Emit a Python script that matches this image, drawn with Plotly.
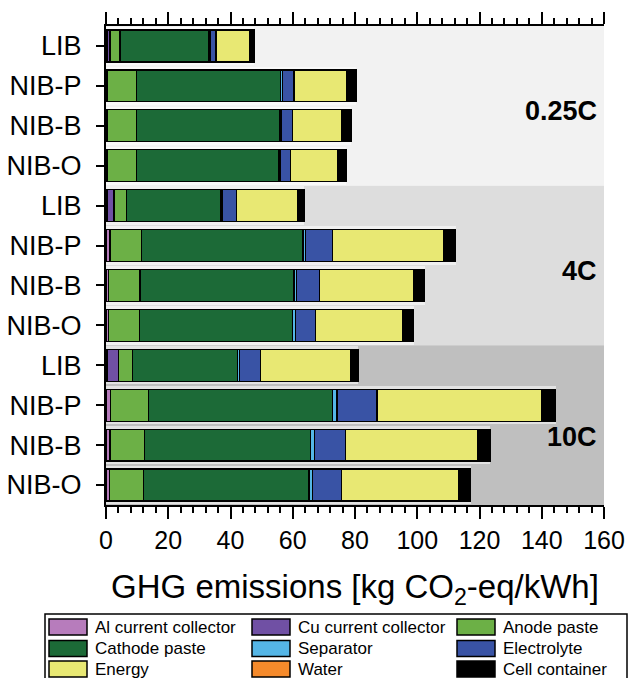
import plotly.graph_objects as go

# ---------------- data ----------------
row_labels = ["LIB", "NIB-P", "NIB-B", "NIB-O",
              "LIB", "NIB-P", "NIB-B", "NIB-O",
              "LIB", "NIB-P", "NIB-B", "NIB-O"]
group_labels = ["0.25C", "4C", "10C"]
group_label_pos = [1.62, 5.65, 9.8]

al_cc     = [0.3, 0.4, 0.4, 0.4, 0.4, 1.3, 0.9, 0.9, 0.5, 1.5, 1.3, 1.1]
cu_cc     = [1.0, 0.0, 0.0, 0.0, 2.2, 0.0, 0.0, 0.0, 3.5, 0.0, 0.0, 0.0]
anode     = [3.2, 9.5, 9.5, 9.3, 3.9, 10.2, 10.0, 9.8, 4.5, 12.2, 11.0, 10.9]
cathode   = [28.5, 46.2, 46.0, 45.7, 30.3, 51.8, 49.5, 49.2, 33.7, 59.1, 53.4, 53.2]
separator = [0.4, 0.5, 0.4, 0.5, 0.5, 0.9, 0.9, 0.9, 0.6, 1.4, 1.2, 1.2]
electrolyte = [1.9, 3.8, 3.7, 3.4, 4.6, 8.5, 7.2, 6.6, 6.8, 12.9, 10.0, 9.3]
energy    = [10.7, 16.9, 15.7, 15.1, 19.6, 35.9, 30.4, 27.8, 28.9, 52.9, 42.5, 37.6]
water     = [0.0] * 12
container = [1.7, 3.0, 3.0, 2.8, 2.1, 3.7, 3.5, 3.6, 2.6, 4.5, 4.1, 3.9]

series = [
    ("Al current collector", al_cc, "#b77cbc"),
    ("Cu current collector", cu_cc, "#7050a4"),
    ("Anode paste", anode, "#6cb046"),
    ("Cathode paste", cathode, "#1c6a37"),
    ("Separator", separator, "#55b6e6"),
    ("Electrolyte", electrolyte, "#3953a5"),
    ("Energy", energy, "#e8e873"),
    ("Water", water, "#f58a2b"),
    ("Cell container", container, "#000000"),
]

x_ticks = [0, 20, 40, 60, 80, 100, 120, 140, 160]
band_colors = ["#f2f2f2", "#dddddd", "#bfbfbf"]

# ---------------- layout constants ----------------
W, H = 629, 678
ML, MR, MT, MB = 106, 25, 26, 173
PW, PH = W - ML - MR, H - MT - MB
FONT = "Arial, Liberation Sans, sans-serif"


def px2paper(px, py):
    return (px - ML) / PW, (H - MB - py) / PH


ypos = list(range(len(row_labels)))
totals = [sum(s[1][i] for s in series) for i in ypos]

fig = go.Figure()

# light halo behind each bar
fig.add_trace(go.Bar(
    y=ypos, x=totals, orientation="h", width=0.96,
    marker=dict(color="rgba(255,255,255,0.55)", line=dict(width=0)),
    showlegend=False, hoverinfo="skip", xaxis="x", yaxis="y"))

for name, vals, col in series:
    fig.add_trace(go.Bar(
        y=ypos, x=vals, orientation="h", name=name, width=0.8,
        marker=dict(color=col, line=dict(color="black", width=1.3)),
        showlegend=False, xaxis="x2", yaxis="y"))

# background bands
for g, c in enumerate(band_colors):
    fig.add_shape(type="rect", xref="paper", yref="y", x0=0, x1=1,
                  y0=g * 4 - 0.5, y1=g * 4 + 3.5, fillcolor=c,
                  line=dict(width=0), layer="below")

# group labels
for lab, yy in zip(group_labels, group_label_pos):
    fig.add_annotation(text="<b>%s</b>" % lab, xref="paper", yref="y",
                       x=1 - 5 / PW, y=yy, xanchor="right", yanchor="middle",
                       showarrow=False, font=dict(family=FONT, size=27, color="black"))

# manual legend
lx0, ly0 = px2paper(45, 614)
lx1, ly1 = px2paper(627, 700)
fig.add_shape(type="rect", xref="paper", yref="paper", x0=lx0, y0=ly0, x1=lx1, y1=ly1,
              line=dict(color="black", width=1.5), fillcolor="white", layer="above")
col_x = [49, 252, 457]
row_y = [627, 648.5, 669]
for i, (name, vals, col) in enumerate(series):
    r, c = divmod(i, 3)
    sx0, sy0 = px2paper(col_x[c], row_y[r] - 8)
    sx1, sy1 = px2paper(col_x[c] + 38, row_y[r] + 8)
    fig.add_shape(type="rect", xref="paper", yref="paper", x0=sx0, y0=sy0, x1=sx1, y1=sy1,
                  fillcolor=col, line=dict(color="black", width=1.5), layer="above")
    tx, ty = px2paper(col_x[c] + 44, row_y[r])
    fig.add_annotation(text=name, xref="paper", yref="paper", x=tx, y=ty,
                       xanchor="left", yanchor="middle", showarrow=False,
                       font=dict(family=FONT, size=17, color="black"))

fig.update_layout(
    width=W, height=H,
    margin=dict(l=ML, r=MR, t=MT, b=MB, autoexpand=False),
    barmode="stack", bargap=0.2,
    paper_bgcolor="white", plot_bgcolor="white",
    font=dict(family=FONT, color="black"),
    showlegend=False,
    xaxis=dict(range=[0, 160], tickvals=x_ticks, ticks="outside", ticklen=12,
               tickwidth=2, tickcolor="black", showline=True, linecolor="black",
               linewidth=2, mirror="ticks", showgrid=False, zeroline=False,
               tickfont=dict(family=FONT, size=25, color="black"),
               minor=dict(dtick=4, ticks="outside", ticklen=6, tickwidth=1.5,
                          tickcolor="black", showgrid=False),
               title=dict(text="GHG emissions [kg CO<sub>2</sub>-eq/kWh]",
                          font=dict(family=FONT, size=33, color="black"), standoff=22)),
    xaxis2=dict(range=[0, 160], overlaying="x", anchor="y", visible=False),
    yaxis=dict(range=[11.5, -0.5], tickvals=ypos, ticktext=row_labels,
               ticks="outside", ticklen=8, tickwidth=2, tickcolor="black",
               showline=True, linecolor="black", linewidth=2, showgrid=False,
               zeroline=False, ticklabelstandoff=9,
               tickfont=dict(family=FONT, size=27, color="black")),
)

fig.write_html("out.html", config={"displayModeBar": False},
               post_script="document.body.style.margin='0';document.body.style.overflow='hidden';")
